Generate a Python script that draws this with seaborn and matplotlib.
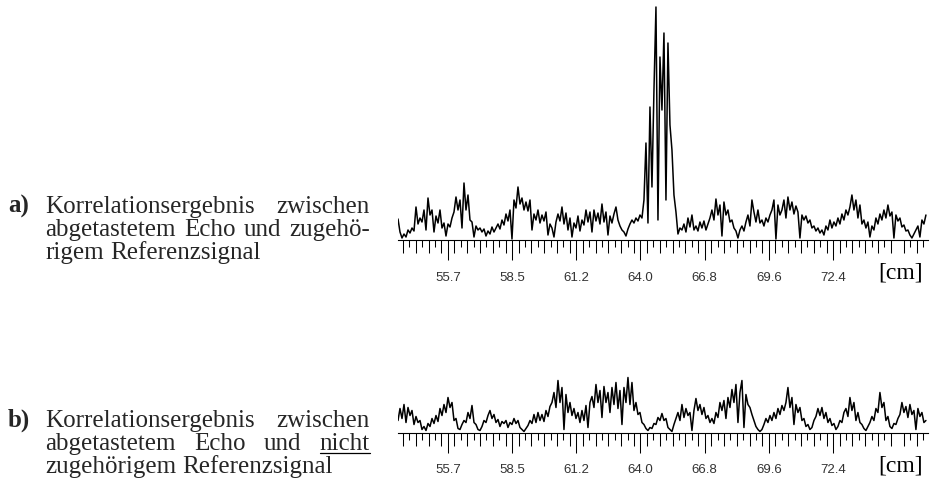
import numpy as np
import pandas as pd
import matplotlib
matplotlib.use("Agg")
import matplotlib.pyplot as plt
import matplotlib.transforms as mtransforms
import seaborn as sns
from matplotlib.lines import Line2D

# Correlation amplitude (arbitrary units), sampled uniformly over the scan range
corr_matching = [
    21, 8, 2, 6, 3, 10, 7, 12, 9, 33,
    16, 22, 18, 30, 10, 42, 25, 30, 8, 24,
    17, 30, 12, 17, 4, 16, 13, 22, 28, 43,
    30, 40, 12, 57, 30, 45, 20, 18, 3, 14,
    10, 12, 8, 11, 4, 9, 6, 13, 8, 12,
    16, 11, 20, 15, 26, 19, 30, 1, 40, 32,
    53, 36, 42, 30, 38, 29, 40, 10, 26, 20,
    30, 17, 25, 19, 28, 5, 16, 12, 3, 18,
    26, 19, 33, 16, 27, 10, 22, 3, 17, 12,
    24, 9, 20, 15, 30, 18, 28, 8, 30, 19,
    27, 16, 36, 18, 28, 5, 24, 17, 26, 33,
    20, 14, 10, 8, 4, 11, 16, 20, 17, 22,
    19, 25, 22, 40, 97, 17, 133, 53, 150, 233,
    20, 183, 130, 207, 40, 197, 115, 90, 45, 28,
    6, 12, 10, 16, 8, 22, 13, 25, 10, 14,
    9, 18, 12, 19, 10, 16, 22, 30, 20, 41,
    25, 35, 4, 38, 25, 30, 18, 20, 12, 9,
    2, 10, 14, 9, 18, 25, 14, 40, 28, 18,
    30, 17, 20, 14, 22, 18, 25, 30, 40, 1,
    35, 25, 30, 40, 22, 43, 30, 38, 26, 34,
    28, 2, 25, 20, 24, 17, 20, 12, 14, 9,
    12, 7, 10, 5, 14, 10, 20, 12, 18, 14,
    22, 16, 26, 20, 30, 25, 33, 45, 30, 40,
    22, 35, 16, 20, 12, 18, 3, 14, 10, 22,
    16, 26, 20, 30, 22, 35, 24, 28, 2, 25,
    19, 22, 13, 15, 9, 10, 5, 2, 6, 10,
    14, 3, 20, 16, 25,
]

corr_nonmatching = [
    12, 24, 14, 28, 10, 25, 17, 22, 8, 16,
    10, 12, 3, 6, 2, 9, 6, 14, 9, 17,
    11, 24, 17, 28, 20, 35, 25, 30, 12, 14,
    4, 3, 8, 12, 10, 20, 14, 27, 10, 8,
    3, 2, 6, 12, 10, 17, 22, 14, 18, 10,
    13, 6, 11, 9, 12, 5, 10, 8, 14, 9,
    12, 5, 3, 1, 4, 7, 12, 9, 18, 10,
    20, 12, 18, 11, 22, 16, 26, 30, 40, 25,
    52, 30, 45, 3, 38, 20, 30, 17, 24, 14,
    20, 10, 22, 12, 27, 5, 30, 36, 25, 48,
    30, 42, 15, 46, 30, 40, 20, 45, 28, 50,
    24, 42, 8, 45, 30, 55, 28, 50, 22, 30,
    18, 20, 10, 8, 4, 2, 5, 4, 9, 8,
    15, 12, 19, 12, 14, 5, 3, 1, 8, 14,
    20, 12, 28, 15, 24, 17, 20, 2, 22, 34,
    22, 28, 18, 25, 14, 17, 10, 14, 9, 20,
    15, 30, 22, 32, 14, 35, 25, 43, 30, 48,
    10, 40, 52, 5, 38, 28, 25, 18, 12, 6,
    3, 1, 3, 8, 14, 10, 17, 12, 20, 14,
    24, 18, 27, 22, 30, 45, 25, 35, 8, 28,
    20, 25, 12, 14, 6, 8, 3, 5, 12, 16,
    24, 17, 25, 14, 20, 10, 14, 7, 9, 3,
    6, 12, 10, 20, 24, 16, 35, 22, 30, 12,
    20, 10, 8, 4, 2, 6, 10, 16, 12, 24,
    20, 40, 25, 30, 12, 16, 6, 4, 9, 8,
    14, 18, 30, 20, 26, 15, 28, 18, 22, 3,
    24, 16, 20, 10, 12,
]

tick_labels = ["55.7", "58.5", "61.2", "64.0", "66.8", "69.6", "72.4"]
first_major_cm = 55.68
major_step_cm = 2.78
scan_start_cm, scan_end_cm = 53.52, 76.38
axis_start_cm, axis_end_cm = 53.52, 76.47

W, H, DPI = 931, 478, 100
TEXT_PT = 18

sns.set_theme(style="white")
plt.rcParams["font.family"] = ["Liberation Serif", "DejaVu Serif"]

fig = plt.figure(figsize=(W / DPI, H / DPI), dpi=DPI)
fig.patch.set_facecolor("white")


def px_axes(left, top, right, bottom):
    return fig.add_axes([left / W, 1 - bottom / H, (right - left) / W, (bottom - top) / H])


major_pos = [first_major_cm + k * major_step_cm for k in range(len(tick_labels))]
sub = major_step_cm / 10
all_sub = [first_major_cm + j * sub for j in range(-8, 80)]
all_sub = [v for v in all_sub if axis_start_cm <= v <= axis_end_cm]
j_index = [round((v - first_major_cm) / sub) for v in all_sub]
medium_pos = [v for v, j in zip(all_sub, j_index) if j % 10 != 0 and j % 2 != 0]
short_pos = [v for v, j in zip(all_sub, j_index) if j % 10 != 0 and j % 2 == 0]


def draw_trace(ax, values, ymax):
    df = pd.DataFrame({
        "pos": np.linspace(scan_start_cm, scan_end_cm, len(values)),
        "amp": values,
    })
    sns.lineplot(data=df, x="pos", y="amp", ax=ax, color="black", lw=1.1,
                 estimator=None, sort=False, legend=False)
    ax.set_xlim(axis_start_cm, axis_end_cm)
    ax.set_ylim(0, ymax)
    ax.set_xlabel("")
    ax.set_ylabel("")
    ax.set_yticks([])
    ax.patch.set_alpha(0)
    for s in ("left", "top", "right"):
        ax.spines[s].set_visible(False)
    ax.spines["bottom"].set_color("black")
    ax.spines["bottom"].set_linewidth(0.8)

    ax.set_xticks(major_pos)
    ax.set_xticklabels(tick_labels, fontfamily="Liberation Sans", fontsize=9.5, color="#333333")
    ax.set_xticks(short_pos, minor=True)
    ax.tick_params(axis="x", which="major", bottom=True, direction="out", length=14.4,
                   width=0.75, color="black", pad=8.5)
    ax.tick_params(axis="x", which="minor", bottom=True, direction="out", length=5,
                   width=0.75, color="black")

    sec = ax.secondary_xaxis("bottom")
    sec.set_xticks(medium_pos)
    sec.tick_params(axis="x", which="major", bottom=True, direction="out", length=9.4,
                    width=0.75, color="black", labelbottom=False)
    sec.tick_params(axis="x", which="minor", bottom=False)
    sec.spines["bottom"].set_visible(False)

    unit_offset = mtransforms.ScaledTranslation(-5 / DPI, -39 / DPI, fig.dpi_scale_trans)
    ax.text(1.0, 0.0, "[cm]", transform=ax.transAxes + unit_offset, fontsize=17,
            ha="right", va="baseline", color="black")


ax_a = px_axes(398, 5, 928, 240)
draw_trace(ax_a, corr_matching, 235)
ax_b = px_axes(398, 372.5, 928, 432.5)
draw_trace(ax_b, corr_nonmatching, 60)

# Justified caption block on the left
renderer = fig.canvas.get_renderer()
X0, X1 = 45, 370
LINE_STEP = 23.2


def fig_xy(x, y):
    return x / W, 1 - y / H


def caption_line(words, y, justify, underline=None):
    arts = [fig.text(*fig_xy(X0, y), w, fontsize=TEXT_PT, ha="left", va="baseline")
            for w in words]
    widths = [a.get_window_extent(renderer).width for a in arts]
    if justify and len(words) > 1:
        gap = (X1 - X0 - sum(widths)) / (len(words) - 1)
    else:
        gap = TEXT_PT * DPI / 72 * 0.25
    x = X0
    for a, w, word in zip(arts, widths, words):
        a.set_position(fig_xy(x, y))
        if underline is not None and word == underline:
            yl = y + 3
            fig.add_artist(Line2D([x / W, (x + w) / W], [1 - yl / H, 1 - yl / H],
                                  transform=fig.transFigure, color="black", lw=0.9))
        x += w + gap


def caption_block(tag, lines, top_baseline, underline=None):
    fig.text(*fig_xy(8, top_baseline), tag, fontsize=TEXT_PT, fontweight="bold",
             ha="left", va="baseline")
    for i, (words, justify) in enumerate(lines):
        caption_line(words, top_baseline + i * LINE_STEP, justify, underline)


caption_block("a)", [
    (["Korrelationsergebnis", "zwischen"], True),
    (["abgetastetem", "Echo", "und", "zugehö-"], True),
    (["rigem", "Referenzsignal"], False),
], 213)

caption_block("b)", [
    (["Korrelationsergebnis", "zwischen"], True),
    (["abgetastetem", "Echo", "und", "nicht"], True),
    (["zugehörigem", "Referenzsignal"], False),
], 427, underline="nicht")

fig.savefig("out.png", dpi=DPI, facecolor="white")
